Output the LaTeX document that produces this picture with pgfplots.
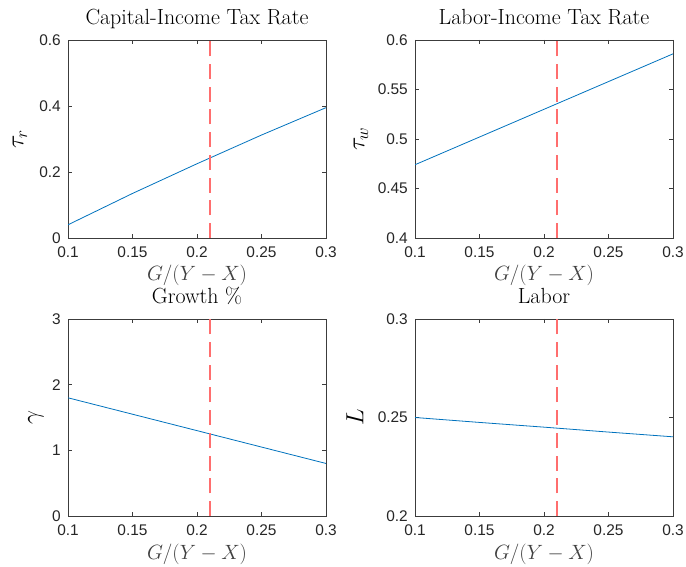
\documentclass[border=0pt]{standalone}
\usepackage{fontspec}
\setsansfont{Liberation Sans}
\usepackage{pgfplots}
\pgfplotsset{compat=1.18}
\definecolor{mblue}{RGB}{0,114,189}
\definecolor{mred}{RGB}{255,110,110}
\definecolor{maxis}{RGB}{60,60,60}

\pgfplotsset{
  mlsub/.style={
    scale only axis,
    width=258bp,
    xmin=0.1, xmax=0.3,
    xtick={0.1,0.15,0.2,0.25,0.3},
    xticklabels={0.1,0.15,0.2,0.25,0.3},
    tick align=inside,
    major tick length=4bp,
    axis line style={maxis, line width=0.6bp},
    every tick/.style={maxis, line width=0.6bp},
    /pgf/number format/assume math mode=true,
    tick label style={font=\sffamily\fontsize{15.5}{15.5}\selectfont, text=black!85},
    xticklabel style={inner sep=0pt, anchor=north, yshift=-9bp},
    yticklabel style={inner sep=0pt, anchor=east, xshift=-7bp},
    title style={font=\fontsize{22}{22}\selectfont, at={(axis description cs:0.5,1)}, anchor=base, yshift=10bp},
    xlabel={$G/(Y-X)$},
    xlabel style={font=\fontsize{22}{22}\selectfont, text=black!75, at={(axis description cs:0.5,0)}, anchor=base, yshift=-43bp},
    ylabel style={font=\fontsize{24}{24}\selectfont, anchor=center},
  },
  vline/.style={mred, line width=2bp, dash pattern=on 15bp off 7.7bp},
  dat/.style={mblue, line width=0.8bp},
}

\begin{document}
\begin{tikzpicture}
\useasboundingbox (0bp,0bp) rectangle (686bp,567bp);

% top left
\begin{axis}[mlsub, at={(68bp,329bp)}, height=198bp,
  ymin=0, ymax=0.6, ytick={0,0.2,0.4,0.6}, yticklabels={0,0.2,0.4,0.6},
  title={Capital-Income Tax Rate},
  ylabel={$\tau_r$}, ylabel style={at={(axis description cs:-0.186,0.5)}}]
\addplot[dat] coordinates {(0.1,0.040) (0.15,0.135) (0.2,0.225) (0.25,0.312) (0.3,0.395)};
\addplot[vline] coordinates {(0.21,0) (0.21,0.6)};
\end{axis}

% top right
\begin{axis}[mlsub, at={(415bp,329bp)}, height=198bp,
  ymin=0.4, ymax=0.6, ytick={0.4,0.45,0.5,0.55,0.6}, yticklabels={0.4,0.45,0.5,0.55,0.6},
  title={Labor-Income Tax Rate},
  ylabel={$\tau_w$}, ylabel style={at={(axis description cs:-0.21,0.5)}}]
\addplot[dat] coordinates {(0.1,0.474) (0.15,0.502) (0.2,0.530) (0.25,0.558) (0.3,0.586)};
\addplot[vline] coordinates {(0.21,0.4) (0.21,0.6)};
\end{axis}

% bottom left
\begin{axis}[mlsub, at={(68bp,51bp)}, height=197bp,
  ymin=0, ymax=3, ytick={0,1,2,3}, yticklabels={0,1,2,3},
  title={Growth \%},
  ylabel={$\gamma$}, ylabel style={at={(axis description cs:-0.124,0.5)}}]
\addplot[dat] coordinates {(0.1,1.80) (0.15,1.55) (0.2,1.30) (0.25,1.05) (0.3,0.80)};
\addplot[vline] coordinates {(0.21,0) (0.21,3)};
\end{axis}

% bottom right
\begin{axis}[mlsub, at={(415bp,51bp)}, height=197bp,
  ymin=0.2, ymax=0.3, ytick={0.2,0.25,0.3}, yticklabels={0.2,0.25,0.3},
  title={Labor},
  ylabel={$L$}, ylabel style={at={(axis description cs:-0.233,0.5)}}]
\addplot[dat] coordinates {(0.1,0.2500) (0.15,0.2475) (0.2,0.2451) (0.25,0.2426) (0.3,0.2402)};
\addplot[vline] coordinates {(0.21,0.2) (0.21,0.3)};
\end{axis}
\end{tikzpicture}
\end{document}
